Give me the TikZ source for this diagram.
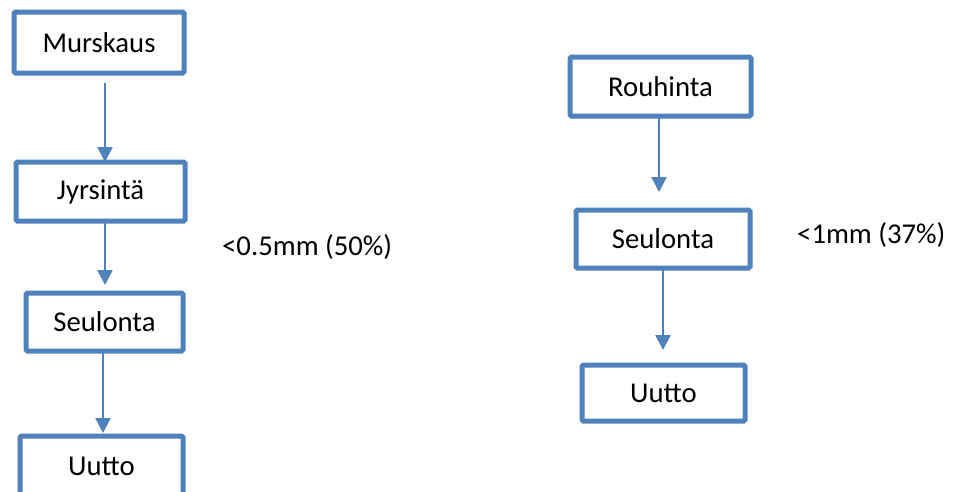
\documentclass[tikz,border=0pt]{standalone}
\usepackage{fontspec}
\setmainfont{Carlito}
\usetikzlibrary{arrows.meta}
\definecolor{boxblue}{HTML}{4F81BD}
\tikzset{
  procbox/.style={draw=boxblue, line width=5pt, rounded corners=1.5pt, fill=white,
    inner sep=0pt, outer sep=0pt, font=\fontsize{28.7}{34}\selectfont, text=black},
  flowarrow/.style={draw=boxblue, line width=2.4pt, -{Triangle[width=15pt,length=15pt]}},
  note/.style={anchor=west, inner sep=0pt, font=\fontsize{28.7}{34}\selectfont, text=black}
}
\begin{document}
\begin{tikzpicture}[x=1pt,y=-1pt]
\clip (0,0) rectangle (953,491);
\fill[white] (0,0) rectangle (953,491);
% left column
\node[procbox, minimum width=170pt, minimum height=61pt] (m) at (99,42.5) {Murskaus};
\node[procbox, minimum width=169pt, minimum height=59pt] (j) at (100.5,191.5) {Jyrsintä};
\node[procbox, minimum width=157pt, minimum height=58pt] (s) at (104.5,322) {Seulonta};
\node[procbox, minimum width=163pt, minimum height=60pt] (u) at (101.5,466) {Uutto};
% right column
\node[procbox, minimum width=181pt, minimum height=59pt] (r) at (660.5,86.5) {Rouhinta};
\node[procbox, minimum width=174pt, minimum height=58pt] (s2) at (663,239) {Seulonta};
\node[procbox, minimum width=163pt, minimum height=56pt] (u2) at (663.5,393) {Uutto};
% labels
\node[note] (l1) at (222,247) {<0.5mm (50\%)};
\node[note] (l2) at (797,235) {<1mm (37\%)};
% arrows
\draw[flowarrow, shorten <=10pt] ([xshift=6pt]m.south) -- ([xshift=6pt]m.south |- j.north);
\draw[flowarrow, shorten >=8pt] ([xshift=4.5pt]j.south) -- ([xshift=4.5pt]j.south |- s.north);
\draw[flowarrow, shorten >=3pt] ([xshift=-1.5pt]s.south) -- ([xshift=-1.5pt]s.south |- u.north);
\draw[flowarrow, shorten <=2pt, shorten >=18pt] ([xshift=-1.5pt]r.south) -- ([xshift=-1.5pt]r.south |- s2.north);
\draw[flowarrow, shorten >=15pt] (s2.south) -- (s2.south |- u2.north);
\end{tikzpicture}
\end{document}
